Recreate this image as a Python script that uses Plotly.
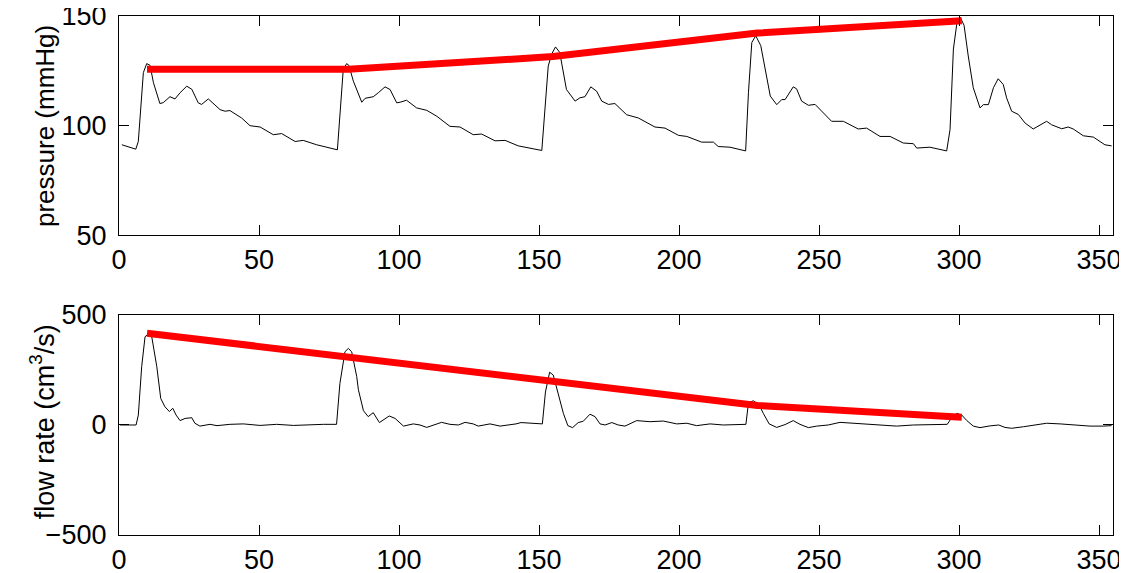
import plotly.graph_objects as go

# ---- pressure trace (mmHg) ----
p_t = [1, 6, 6.9, 8.7, 9.9, 11.1, 12.3, 14.6, 15.8, 18.2, 20, 21.8, 24.2, 26, 28.3, 29.5, 31.9, 36.1, 37.9, 39.6,
       43.8, 46.8, 50.4, 55.1, 58.1, 62.9, 65.8, 70.6, 78,
       80.1, 81.3, 82.1, 83.7, 86.7, 87.9, 90.8, 92.6, 95, 96.8, 99.2, 100.4, 102.7, 106.3, 109.9, 113.5, 118.2,
       121.8, 126.5, 129.5, 134.3, 137.9, 142.6, 151,
       152.1, 153.3, 154.5, 155.9, 157.4, 159.8, 162.9, 164.6, 166.4, 168.5, 170.6, 172.4, 174.8, 177.1, 181.3,
       185.5, 191.4, 195, 199.8, 202.8, 208.1, 212.3, 214, 218.2, 223.8,
       224.8, 226, 227.4, 229.2, 230.7, 232.6, 234.9, 236.7, 237.9, 240.8, 242, 243.8, 246.2, 248.6, 254.5, 258.7,
       264, 267, 271.8, 275.4, 280.1, 283.7, 284.9, 289.6, 295.6,
       296.8, 298, 299.2, 300.4, 301.8, 303.3, 305.1, 307.5, 308.7, 310.5, 312.3, 314, 315.8, 317, 318.8, 321.2,
       323.6, 326.5, 328.9, 331.3, 333.1, 336.7, 339, 340.8, 344.4, 348, 352.1, 354.5]
p_val = [91.3, 89.3, 92.8, 124.2, 128.3, 127.5, 119.6, 110.1, 110.5, 113.2, 112.2, 115, 118, 116.6, 110.4, 109.7, 112.2, 107.3, 106.6, 106.9,
         103.5, 100, 99.4, 95.9, 96.4, 92.8, 93.3, 91.3, 89,
         125.7, 128.3, 127.5, 120.3, 110.7, 112.5, 113.2, 115, 117.7, 116.5, 110.4, 110.7, 111.6, 108.1, 107, 104.3, 99.7,
         99.4, 95.9, 96.2, 93.1, 93.3, 90.8, 88.7,
         107.3, 127.2, 132.6, 135.9, 133.4, 116.5, 111.2, 112.7, 113.2, 117.7, 115.7, 111.2, 109.7, 110.1, 105,
         103.5, 99.4, 98.9, 95.6, 95.1, 92.5, 92.5, 90.5, 90.2, 88.5,
         115, 137.9, 141, 136.5, 125.7, 113.5, 109.6, 111.9, 111.9, 117.7, 116.8, 111.2, 109.3, 109.7, 102, 102,
         98.5, 98.9, 95.1, 95.1, 92.1, 91.8, 89.8, 90.2, 88.5,
         98.2, 134.9, 146.3, 149.5, 145.8, 131.8, 117.3, 108.1, 109.6, 109.6, 117.3, 121.4, 118.8, 112.7, 106.6, 105.1,
         101.2, 98.5, 100.4, 102, 100.4, 98.6, 99.4, 98.5, 95.4, 94.8, 91.3, 90.8]

# ---- flow trace (cm^3/s) ----
f_t = [0.4, 6.1, 6.9, 8.1, 9.3, 10.5, 11.7, 13.5, 14.9, 16.4, 18, 19.2, 20.4, 21.8, 23.6, 26, 27.1, 28.9, 32.5, 35,
       39.6, 44.4, 50.4, 56.3, 62.3, 68.2, 73, 77.7,
       78.9, 80.7, 81.9, 83.1, 84.9, 85.5, 87.3, 89, 90.8, 93, 96.5, 98.6, 101.6, 105.1, 107.5, 109.9, 112.3, 115.2,
       118.2, 121.2, 123.6, 126.5, 128.3, 132.5, 136.1, 140, 141.8, 143.6, 150.4, 151.2,
       152.3, 153.8, 155.1, 156.9, 158.7, 160.3, 162, 164, 165.8, 168.2, 170, 171.8, 173.6, 176, 178.3, 180.7, 184.9,
       189.6, 194.4, 199.2, 202.8, 206.3, 211.1, 215.8, 220.6, 223.9,
       224.8, 226.5, 228.6, 230.1, 232.2, 234.9, 237.9, 240.8, 243.2, 246.2, 249.2, 253.3, 257.5, 262.3, 267, 271.8,
       277.7, 283.7, 290.8, 295.8,
       297.2, 299.2, 301, 302.8, 305.1, 307.5, 311.1, 314.2, 316.4, 318.8, 323, 326.5, 331.3, 336.1, 340.8, 346.8,
       351.5, 354.5]
f_val = [0, 0, 45, 265, 401, 414, 401, 265, 121, 83, 61, 76, 45, 20, 30, 33, 8, -5, 3, -3,
         3, 5, -2, 3, -2, 2, 3, 3,
         189, 333, 348, 333, 220, 160, 65, 38, 56, 11, 41, 30, -5, 5, 0, -11, 0, 12,
         3, 0, 12, 5, -5, 5, -5, 0, 5, 11, 5, 5,
         150, 240, 227, 136, 53, -3, -12, 11, 17, 49, 38, 5, 0, 11, 0, -5, 20,
         15, 18, 5, 8, -3, 5, 0, 3, 3,
         100, 110, 93, 53, 5, -11, 2, 20, 3, -12, -5, 0, 12, 8, 5, -2,
         -5, 0, 0, 3,
         30, 53, 45, 20, -5, -12, -4, 0, -11, -15, -8, 0, 8, 5, 0, -5,
         -5, -3]

# ---- red trend lines ----
trend_t = [10, 82, 155, 228, 301]
trend_p = [125.7, 125.7, 131.5, 142.2, 147.8]
trend_f = [417, 308, 197, 89, 35]

x_ticks = [0, 50, 100, 150, 200, 250, 300, 350]
p_ticks = [50, 100, 150]
f_ticks = [-500, 0, 500]

fig = go.Figure()
fig.add_trace(go.Scatter(x=p_t, y=p_val, mode="lines", line=dict(color="black", width=1),
                         xaxis="x", yaxis="y", showlegend=False))
fig.add_trace(go.Scatter(x=trend_t, y=trend_p, mode="lines", line=dict(color="#ff0000", width=7),
                         xaxis="x", yaxis="y", showlegend=False))
fig.add_trace(go.Scatter(x=f_t, y=f_val, mode="lines", line=dict(color="black", width=1),
                         xaxis="x2", yaxis="y2", showlegend=False))
fig.add_trace(go.Scatter(x=trend_t, y=trend_f, mode="lines", line=dict(color="#ff0000", width=7),
                         xaxis="x2", yaxis="y2", showlegend=False))

fam = "Liberation Sans, Arial, Helvetica, sans-serif"
tick_font = dict(family=fam, size=27, color="black")
ptitle_font = dict(family=fam, size=26, color="black")
ftitle_font = dict(family=fam, size=27, color="black")
ax_common = dict(showline=True, linecolor="black", linewidth=1.3, mirror="ticks", ticks="inside",
                 ticklen=10, tickcolor="black", tickwidth=1, showgrid=False, zeroline=False,
                 tickfont=tick_font, automargin=False, ticklabeloverflow="allow")

top_dom = [0.5773, 1]
bot_dom = [0, 0.4239]

# the page body adds an 8px offset; figure sized to fit the 1127x573 window
fig.update_layout(
    width=1111, height=565,
    margin=dict(l=111, r=6, t=8, b=38, autoexpand=False),
    plot_bgcolor="white", paper_bgcolor="white",
    font=tick_font,
    xaxis=dict(domain=[0, 1], range=[0, 355], tickvals=x_ticks, anchor="y", ticklabelstandoff=0, **ax_common),
    yaxis=dict(domain=top_dom, range=[50, 150], tickvals=p_ticks, anchor="x", ticklabelstandoff=6, **ax_common),
    xaxis2=dict(domain=[0, 1], range=[0, 355], tickvals=x_ticks, anchor="y2", ticklabelstandoff=0, **ax_common),
    yaxis2=dict(domain=bot_dom, range=[-500, 500], tickvals=f_ticks, anchor="x2", ticklabelstandoff=6, **ax_common),
    annotations=[
        dict(text="pressure (mmHg)", xref="paper", yref="paper", x=-0.058, y=(top_dom[0] + top_dom[1]) / 2,
             xanchor="right", yanchor="middle", textangle=-90, showarrow=False, font=ptitle_font),
        dict(text="flow rate (cm<sup>3</sup>/s)", xref="paper", yref="paper", x=-0.058,
             y=(bot_dom[0] + bot_dom[1]) / 2 + 0.006,
             xanchor="right", yanchor="middle", textangle=-90, showarrow=False, font=ftitle_font),
    ],
)

fig.write_html("out.html")
